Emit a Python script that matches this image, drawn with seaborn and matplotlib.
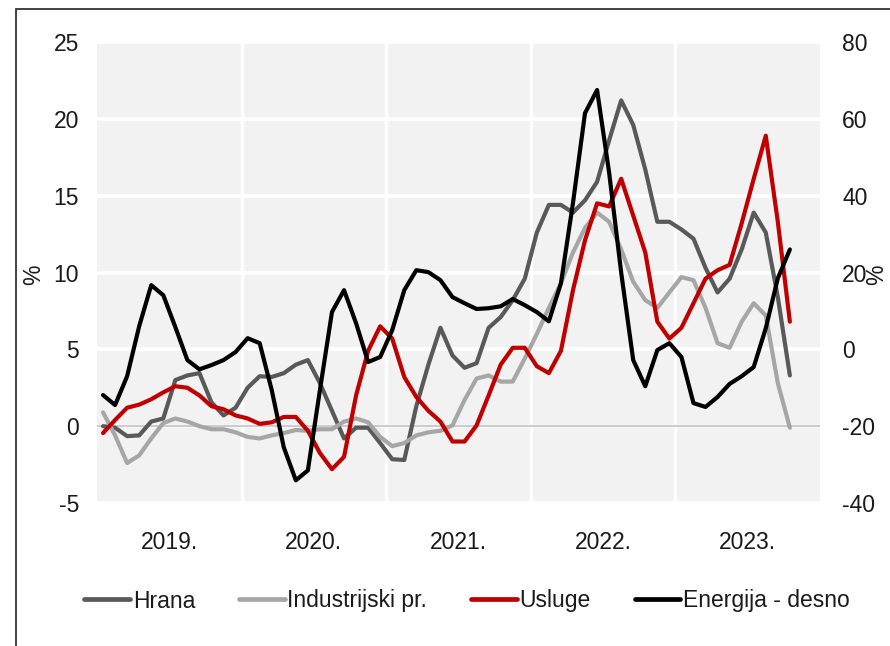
import numpy as np
import pandas as pd
import matplotlib
matplotlib.use("Agg")
import matplotlib.pyplot as plt
from matplotlib.lines import Line2D
from matplotlib.patches import Rectangle
import seaborn as sns

# ---------------- data ----------------
years = ["2019.", "2020.", "2021.", "2022.", "2023."]
left_ticks = [-5, 0, 5, 10, 15, 20, 25]
right_ticks = [-40, -20, 0, 20, 40, 60, 80]

hrana = [0.0, -0.1, -0.65, -0.6, 0.3, 0.5, 3.0, 3.3, 3.45, 1.55, 0.7, 1.2,
         2.5, 3.25, 3.2, 3.45, 4.0, 4.3, 2.8, 1.0, -0.8, -0.1, -0.1, -1.1,
         -2.15, -2.2, 1.3, 4.0, 6.4, 4.6, 3.8, 4.1, 6.4, 7.1, 8.2, 9.6,
         12.6, 14.4, 14.4, 13.9, 14.7, 15.9, 18.6, 21.2, 19.6, 16.7, 13.3, 13.3,
         12.8, 12.2, 10.3, 8.7, 9.6, 11.5, 13.9, 12.6, 8.4, 3.3]
industrijski = [0.9, -0.6, -2.4, -1.9, -0.8, 0.2, 0.5, 0.3, 0.0, -0.2, -0.2, -0.4,
                -0.7, -0.8, -0.6, -0.45, -0.25, -0.3, -0.2, -0.2, 0.3, 0.5, 0.25, -0.7,
                -1.3, -1.1, -0.6, -0.4, -0.3, 0.05, 1.7, 3.1, 3.3, 2.9, 2.9, 4.4,
                6.0, 7.7, 9.3, 11.3, 12.9, 13.9, 13.3, 11.5, 9.4, 8.2, 7.7, 8.7,
                9.7, 9.5, 7.7, 5.4, 5.1, 6.8, 8.0, 7.2, 2.8, -0.1]
usluge = [-0.45, 0.4, 1.2, 1.4, 1.75, 2.2, 2.6, 2.5, 2.0, 1.3, 1.1, 0.7,
          0.5, 0.15, 0.25, 0.6, 0.6, -0.3, -1.75, -2.8, -2.0, 2.0, 4.9, 6.5,
          5.7, 3.2, 1.9, 1.0, 0.3, -1.0, -1.0, 0.05, 2.0, 4.0, 5.1, 5.1,
          3.9, 3.45, 4.9, 8.85, 12.1, 14.5, 14.3, 16.1, 13.7, 11.3, 6.8, 5.7,
          6.4, 8.0, 9.6, 10.15, 10.5, 13.2, 16.1, 18.9, 13.3, 6.8]
energija = [-11.9, -14.5, -7.0, 6.0, 16.7, 14.1, 5.8, -2.8, -5.2, -4.1, -2.8, -0.7,
            2.9, 1.6, -10.6, -25.5, -34.1, -31.5, -10.6, 9.7, 15.4, 6.8, -3.3, -2.0,
            5.0, 15.4, 20.6, 20.1, 18.0, 13.6, 12.0, 10.5, 10.7, 11.2, 13.1, 11.5,
            9.7, 7.3, 17.2, 38.1, 61.5, 67.5, 46.0, 20.0, -2.8, -9.6, -0.2, 1.6,
            -2.0, -14.0, -15.0, -12.4, -9.0, -7.0, -4.6, 5.5, 18.5, 26.0]

labels = ["Hrana", "Industrijski pr.", "Usluge", "Energija - desno"]
colors = ["#595959", "#a6a6a6", "#c00000", "#000000"]

# ---------------- style ----------------
sns.set_style("white", {"axes.facecolor": "#f2f2f2"})
plt.rcParams["font.family"] = ["Liberation Sans", "DejaVu Sans"]
plt.rcParams["text.color"] = "#1a1a1a"
plt.rcParams["axes.unicode_minus"] = False
FS = 16.5

n = len(hrana)
months = np.arange(n) + 0.5  # month centres (one unit per month)

df_left = pd.DataFrame({
    "x": np.tile(months, 3),
    "value": hrana + industrijski + usluge,
    "series": [labels[0]] * n + [labels[1]] * n + [labels[2]] * n,
})
df_right = pd.DataFrame({"x": months, "value": energija})

fig = plt.figure(figsize=(8.9, 6.46), dpi=100)
ax = fig.add_axes([97 / 890, 1 - 503 / 646, 723 / 890, 461 / 646])
ax.set_facecolor("#f2f2f2")

ax.set_xlim(0, 60)
ax.set_ylim(-5, 25)
ax.set_yticks(left_ticks)
ax.set_xticks([6, 18, 30, 42, 54])
ax.set_xticks([12, 24, 36, 48], minor=True)
ax.set_xticklabels(years)
ax.grid(axis="y", which="major", color="white", lw=2.6, zorder=0)
ax.grid(axis="x", which="minor", color="white", lw=2.4, zorder=0)
ax.grid(axis="x", which="major", visible=False)
ax.set_axisbelow(True)
ax.axhline(0, color="#cccccc", lw=1.6, zorder=1)

LW = 3.0
sns.lineplot(data=df_left, x="x", y="value", hue="series",
             hue_order=labels[:3], palette=colors[:3], linewidth=LW,
             ax=ax, legend=False, sort=False, zorder=3)

ax2 = ax.twinx()
sns.lineplot(data=df_right, x="x", y="value", color=colors[3], linewidth=LW,
             ax=ax2, legend=False, sort=False, zorder=4)
ax2.set_ylim(-40, 80)
ax2.set_yticks(right_ticks)

for a in (ax, ax2):
    for s in a.spines.values():
        s.set_visible(False)
    a.set_xlabel("")
    a.set_ylabel("")

ax.tick_params(axis="y", length=0, pad=13, labelsize=FS, labelcolor="#1a1a1a")
ax.tick_params(axis="x", which="both", length=0, pad=20, labelsize=FS, labelcolor="#1a1a1a")
ax2.tick_params(axis="y", length=0, pad=16, labelsize=FS, labelcolor="#1a1a1a")

# axis unit labels
fig.text(34 / 890, 1 - 275 / 646, "%", rotation=90, ha="center", va="center", fontsize=FS)
fig.text(877 / 890, 1 - 275 / 646, "%", rotation=90, ha="center", va="center", fontsize=FS)

# legend
handles = [Line2D([0], [0], color=c, lw=3.4) for c in colors]
fig.legend(handles, labels, ncol=4, loc="center",
           bbox_to_anchor=(467 / 890, 1 - 601 / 646), frameon=False,
           fontsize=FS, handlelength=2.0, handletextpad=0.13, columnspacing=1.9)

# outer frame (cropped at right and bottom like the reference)
fig.patches.append(Rectangle((16 / 890, -0.1), 1.2, (646 - 9) / 646 + 0.1,
                             transform=fig.transFigure, fill=False,
                             edgecolor="#333333", lw=1.3))

fig.savefig("out.png", dpi=100)
